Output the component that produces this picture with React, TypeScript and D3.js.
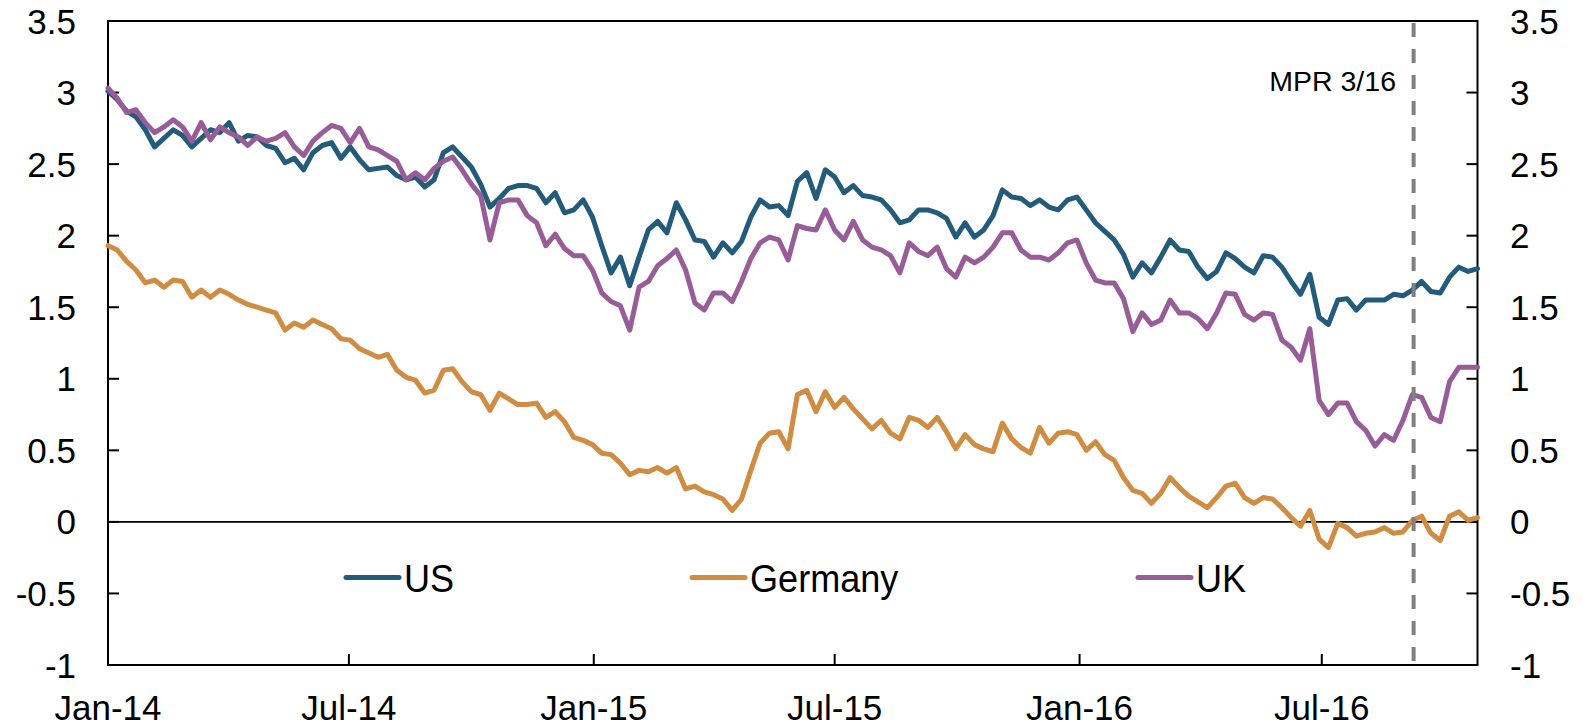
import React from 'react';
import * as d3 from 'd3';

// weekly observations, first one on START, one every 7 days
const START = '2014-01-01';
const END = '2016-10-26';
const MPR_DATE = '2016-09-08';

const us = [
  3.01, 2.95, 2.87, 2.83, 2.74, 2.62, 2.68, 2.74, 2.7, 2.62, 2.68, 2.74, 2.72, 2.79, 2.66, 2.7,
  2.69, 2.63, 2.61, 2.51, 2.54, 2.46, 2.58, 2.63, 2.65, 2.54, 2.62, 2.53, 2.46, 2.47, 2.48, 2.42,
  2.39, 2.41, 2.34, 2.39, 2.58, 2.62, 2.55, 2.48, 2.36, 2.2, 2.26, 2.33, 2.35, 2.35, 2.33, 2.23,
  2.3, 2.16, 2.18, 2.25, 2.13, 1.93, 1.74, 1.85, 1.65, 1.85, 2.04, 2.1, 2.02, 2.23, 2.11, 1.97,
  1.96, 1.85, 1.95, 1.88, 1.96, 2.13, 2.25, 2.2, 2.21, 2.14, 2.38, 2.44, 2.26, 2.46, 2.41, 2.3,
  2.35, 2.28, 2.27, 2.25, 2.18, 2.09, 2.11, 2.18, 2.18, 2.16, 2.12, 1.99, 2.09, 1.99, 2.04, 2.14,
  2.32, 2.27, 2.26, 2.21, 2.25, 2.2, 2.18, 2.25, 2.27, 2.18, 2.09, 2.03, 1.97, 1.87, 1.71, 1.81,
  1.74, 1.85, 1.97, 1.9, 1.89, 1.78, 1.7, 1.75, 1.88, 1.84, 1.78, 1.74, 1.86, 1.85, 1.78, 1.68,
  1.59, 1.73, 1.43, 1.38, 1.55, 1.56, 1.48, 1.55, 1.55, 1.55, 1.59, 1.58, 1.62, 1.68, 1.61, 1.6,
  1.71, 1.78, 1.75, 1.77,
];

const germany = [
  1.93, 1.9, 1.82, 1.76, 1.67, 1.69, 1.64, 1.69, 1.68, 1.57, 1.62, 1.57, 1.62, 1.59, 1.55, 1.52,
  1.5, 1.48, 1.46, 1.34, 1.39, 1.36, 1.41, 1.38, 1.35, 1.28, 1.27, 1.21, 1.18, 1.15, 1.17, 1.06,
  1.01, 0.99, 0.9, 0.92, 1.06, 1.07, 0.98, 0.91, 0.89, 0.78, 0.9, 0.86, 0.82, 0.82, 0.83, 0.73,
  0.77, 0.7, 0.59, 0.57, 0.54, 0.48, 0.47, 0.41, 0.33, 0.36, 0.35, 0.38, 0.34, 0.38, 0.23, 0.25,
  0.21, 0.19, 0.16, 0.08, 0.16, 0.36, 0.55, 0.62, 0.63, 0.51, 0.89, 0.92, 0.77, 0.91, 0.8, 0.87,
  0.79, 0.72, 0.65, 0.71, 0.62, 0.58, 0.73, 0.71, 0.66, 0.73, 0.63, 0.51, 0.61, 0.54, 0.51, 0.49,
  0.69, 0.58, 0.52, 0.48, 0.66, 0.55, 0.62, 0.63, 0.61, 0.5, 0.56, 0.47, 0.43, 0.31, 0.22, 0.2,
  0.13, 0.2, 0.31, 0.24, 0.18, 0.14, 0.1, 0.17, 0.25, 0.27, 0.17, 0.13, 0.17, 0.16, 0.1, 0.03,
  -0.03, 0.08, -0.12, -0.18, -0.01, -0.04, -0.1, -0.08, -0.07, -0.04, -0.08, -0.07, 0.01, 0.04, -0.08, -0.13,
  0.04, 0.07, 0.01, 0.03,
];

const uk = [
  3.03, 2.96, 2.86, 2.88, 2.79, 2.72, 2.76, 2.81, 2.76, 2.66, 2.79, 2.67, 2.76, 2.72, 2.69, 2.63,
  2.69, 2.66, 2.68, 2.72, 2.62, 2.56, 2.66, 2.72, 2.77, 2.75, 2.65, 2.75, 2.62, 2.6, 2.56, 2.52,
  2.39, 2.44, 2.39, 2.47, 2.52, 2.55, 2.46, 2.36, 2.28, 1.97, 2.23, 2.25, 2.25, 2.14, 2.09, 1.93,
  2.01, 1.91, 1.86, 1.86, 1.76, 1.6, 1.54, 1.51, 1.34, 1.64, 1.68, 1.79, 1.84, 1.9, 1.76, 1.53,
  1.48, 1.6, 1.6, 1.54, 1.68, 1.84, 1.95, 1.99, 1.97, 1.83, 2.07, 2.05, 2.04, 2.18, 2.04, 1.97,
  2.1, 1.97, 1.92, 1.9, 1.86, 1.74, 1.95, 1.89, 1.86, 1.92, 1.77, 1.71, 1.85, 1.81, 1.85, 1.92,
  2.02, 2.02, 1.9, 1.85, 1.85, 1.83, 1.88, 1.95, 1.97, 1.81, 1.69, 1.67, 1.67, 1.56, 1.33, 1.46,
  1.38, 1.41, 1.55, 1.46, 1.46, 1.42, 1.35, 1.46, 1.6, 1.59, 1.45, 1.41, 1.46, 1.45, 1.27, 1.22,
  1.13, 1.35, 0.85, 0.75, 0.83, 0.83, 0.7, 0.64, 0.53, 0.61, 0.57, 0.71, 0.89, 0.87, 0.73, 0.7,
  0.98, 1.08, 1.08, 1.08,
];

const xTickDates = ['2014-01-01', '2014-07-01', '2015-01-01', '2015-07-01', '2016-01-01', '2016-07-01'];
const xTickLabels = ['Jan-14', 'Jul-14', 'Jan-15', 'Jul-15', 'Jan-16', 'Jul-16'];
const yTicks = [3.5, 3, 2.5, 2, 1.5, 1, 0.5, 0, -0.5, -1];

const seriesNames = ['US', 'Germany', 'UK'];
const seriesColors = ['#235b7b', '#d08c40', '#985c98'];

const W = 1583;
const H = 728;
const FONT = "'Liberation Sans', Arial, Helvetica, sans-serif";

export default function App() {
  const parse = d3.timeParse('%Y-%m-%d');
  const start = parse(START) as Date;
  const dates = us.map((_, i) => d3.timeDay.offset(start, 7 * i));

  const left = 108;
  const right = 1477.5;
  const top = 21;
  const bottom = 665;

  const x = d3.scaleTime().domain([start, parse(END) as Date]).range([left, right]);
  const y = d3.scaleLinear().domain([-1, 3.5]).range([bottom, top]);

  const line = d3
    .line<number>()
    .x((_, i) => x(dates[i]))
    .y((d) => y(d));

  const series = [us, germany, uk];
  const mprX = x(parse(MPR_DATE) as Date);

  // legend: line start x for each entry
  const legendX = [346, 692, 1138];
  const legendY = 577.5;

  return (
    <svg
      width={W}
      height={H}
      style={{ position: 'absolute', left: 0, top: 0, background: '#fff' }}
      fontFamily={FONT}
    >
      <rect x={0} y={0} width={W} height={H} fill="#fff" />

      {/* zero line */}
      <line x1={left} x2={right} y1={y(0)} y2={y(0)} stroke="#000" strokeWidth={1.8} />

      {/* frame */}
      <rect x={left} y={top} width={right - left} height={bottom - top} fill="none" stroke="#000" strokeWidth={2} />

      {/* y ticks both sides */}
      {yTicks.map((v) => (
        <g key={v}>
          <line x1={left} x2={left + 11} y1={y(v)} y2={y(v)} stroke="#000" strokeWidth={2} />
          <line x1={right - 11} x2={right} y1={y(v)} y2={y(v)} stroke="#000" strokeWidth={2} />
          <text x={76} y={y(v) + 12.5} fontSize={35} textAnchor="end" fill="#000">
            {String(v)}
          </text>
          <text x={1510} y={y(v) + 12.5} fontSize={35} textAnchor="start" fill="#000">
            {String(v)}
          </text>
        </g>
      ))}

      {/* x ticks */}
      {xTickDates.map((d, i) => {
        const xx = x(parse(d) as Date);
        return (
          <g key={d}>
            <line x1={xx} x2={xx} y1={bottom} y2={bottom - 11} stroke="#000" strokeWidth={2} />
            <text x={xx} y={720} fontSize={35} textAnchor="middle" fill="#000">
              {xTickLabels[i]}
            </text>
          </g>
        );
      })}

      {/* series */}
      {series.map((s, k) => (
        <path
          key={seriesNames[k]}
          d={line(s) || ''}
          fill="none"
          stroke={seriesColors[k]}
          strokeWidth={5}
          strokeLinejoin="round"
          strokeLinecap="round"
        />
      ))}

      {/* MPR marker */}
      <line
        x1={mprX}
        x2={mprX}
        y1={top + 2}
        y2={bottom}
        stroke="#808080"
        strokeWidth={4}
        strokeDasharray="14,12"
      />
      <text x={1396} y={91} fontSize={28.5} textAnchor="end" fill="#000">
        MPR 3/16
      </text>

      {/* legend */}
      {seriesNames.map((n, k) => (
        <g key={n}>
          <line
            x1={legendX[k]}
            x2={legendX[k] + 53}
            y1={legendY}
            y2={legendY}
            stroke={seriesColors[k]}
            strokeWidth={5}
            strokeLinecap="round"
          />
          <text
            transform={`translate(${legendX[k] + 58},${legendY + 14}) scale(0.95,1)`}
            fontSize={38}
            fill="#000"
          >
            {n}
          </text>
        </g>
      ))}
    </svg>
  );
}
